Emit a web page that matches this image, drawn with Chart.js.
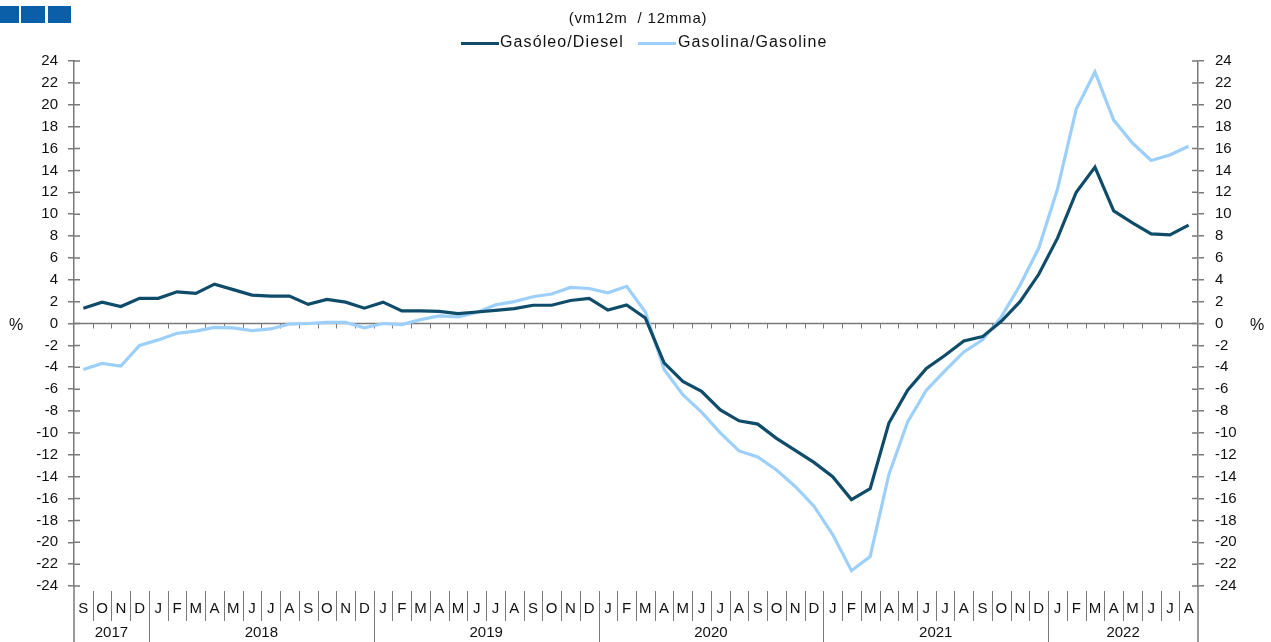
<!DOCTYPE html>
<html>
<head>
<meta charset="utf-8">
<script src="https://cdn.jsdelivr.net/npm/chart.js@4.4.0/dist/chart.umd.min.js"></script>
<style>
  body { margin: 0; background: #fff; font-family: "Liberation Sans", Arial, sans-serif; }
  #wrap { position: relative; width: 1271px; height: 642px; overflow: hidden; }
  canvas { position: absolute; left: 0; top: 0; }
  .sq { position: absolute; top: 6px; height: 17px; background: #0b5ea8; }
  .txt { position: absolute; white-space: nowrap; color: #111; font-size: 15px; }
  .swatch { position: absolute; height: 3px; }
</style>
</head>
<body>
<div id="wrap">
  <canvas id="chart" width="1271" height="642"></canvas>
  <div class="sq" style="left:0;width:19px"></div>
  <div class="sq" style="left:21px;width:24px"></div>
  <div class="sq" style="left:48px;width:23px"></div>
  <div class="txt" style="left:0;width:1276px;text-align:center;top:9px;letter-spacing:0.8px">(vm12m&nbsp; / 12mma)</div>
  <div class="swatch" style="left:461px;top:42px;width:38px;background:#0f4c6a"></div>
  <div class="txt" style="left:500px;top:33px;font-size:16px;letter-spacing:1.1px">Gasóleo/Diesel</div>
  <div class="swatch" style="left:638px;top:42px;width:38px;background:#9dcffb"></div>
  <div class="txt" style="left:678px;top:33px;font-size:16px;letter-spacing:1.1px">Gasolina/Gasoline</div>
</div>
<script>
// months Sep 2017 .. Aug 2022
const months = ['S','O','N','D',
  'J','F','M','A','M','J','J','A','S','O','N','D',
  'J','F','M','A','M','J','J','A','S','O','N','D',
  'J','F','M','A','M','J','J','A','S','O','N','D',
  'J','F','M','A','M','J','J','A','S','O','N','D',
  'J','F','M','A','M','J','J','A'];
const years = ['2017','2018','2019','2020','2021','2022'];
const yearLengths = [4, 12, 12, 12, 12, 8];

const diesel = [1.4, 1.95, 1.55, 2.3,
  2.3, 2.9, 2.75, 3.6, 3.1, 2.6, 2.5, 2.5, 1.75, 2.2, 1.95, 1.4,
  1.95, 1.15, 1.15, 1.1, 0.9, 1.05, 1.2, 1.36, 1.67, 1.67, 2.1, 2.3,
  1.23, 1.7, 0.5, -3.6, -5.3, -6.2, -7.9, -8.9, -9.2, -10.5, -11.6, -12.7,
  -14.0, -16.1, -15.1, -9.1, -6.1, -4.1, -2.9, -1.6, -1.2, 0.2, 2.0, 4.5,
  7.8, 12.0, 14.3, 10.3, 9.2, 8.2, 8.1, 9.0];

const gasoline = [-4.2, -3.65, -3.9, -2.0,
  -1.5, -0.9, -0.7, -0.35, -0.4, -0.65, -0.5, -0.05, 0.0, 0.1, 0.1, -0.4,
  0.0, -0.1, 0.35, 0.7, 0.6, 1.0, 1.7, 2.0, 2.45, 2.7, 3.3, 3.2,
  2.8, 3.4, 1.05, -4.2, -6.5, -8.1, -10.0, -11.65, -12.2, -13.4, -14.9, -16.7,
  -19.3, -22.6, -21.3, -13.8, -9.0, -6.1, -4.3, -2.6, -1.5, 0.6, 3.5, 6.9,
  12.3, 19.6, 23.0, 18.6, 16.5, 14.9, 15.4, 16.2];

const yMin = -24, yMax = 24, yStep = 2;
const axisGrey = '#7a7a7a';
const FONT = '"Liberation Sans", Arial, sans-serif';

// separators, zero line, inner tick stubs and % labels
const decor = {
  id: 'decor',
  beforeDatasetsDraw(chart) {
    const { ctx, chartArea: a, scales } = chart;
    const y0 = scales.y.getPixelForValue(0);
    const w = a.width / months.length;
    ctx.save();
    ctx.strokeStyle = axisGrey;
    ctx.lineWidth = 1.5;
    ctx.beginPath();
    ctx.moveTo(a.left, y0);
    ctx.lineTo(a.right, y0);
    ctx.stroke();
    ctx.lineWidth = 1;
    for (let i = 1; i < months.length; i++) {
      const x = Math.round(a.left + i * w) + 0.5;
      ctx.beginPath();
      ctx.moveTo(x, y0);
      ctx.lineTo(x, y0 + 5);
      ctx.stroke();
    }
    ctx.restore();
  },
  afterDraw(chart) {
    const { ctx, chartArea: a, scales } = chart;
    const w = a.width / months.length;
    ctx.save();
    ctx.strokeStyle = axisGrey;
    ctx.lineWidth = 1.5;
    // inner halves of the y tick marks
    for (let v = yMin; v <= yMax; v += yStep) {
      const y = scales.y.getPixelForValue(v);
      ctx.beginPath();
      ctx.moveTo(a.left, y); ctx.lineTo(a.left + 6, y);
      ctx.moveTo(a.right, y); ctx.lineTo(a.right - 6, y);
      ctx.stroke();
    }
    // axes carried down through the label area
    ctx.beginPath();
    ctx.moveTo(a.left, a.bottom); ctx.lineTo(a.left, 642);
    ctx.moveTo(a.right, a.bottom); ctx.lineTo(a.right, 642);
    ctx.stroke();
    // month and year separators
    ctx.lineWidth = 1;
    const yearStarts = [];
    let acc = 0;
    yearLengths.forEach(n => { yearStarts.push(acc); acc += n; });
    for (let i = 1; i < months.length; i++) {
      const x = Math.round(a.left + i * w) + 0.5;
      const isYear = yearStarts.includes(i);
      ctx.beginPath();
      ctx.moveTo(x, a.bottom + 5);
      ctx.lineTo(x, isYear ? 642 : a.bottom + 35);
      ctx.stroke();
    }
    // year labels
    ctx.fillStyle = '#111';
    ctx.font = '15px ' + FONT;
    ctx.textAlign = 'center';
    ctx.textBaseline = 'middle';
    years.forEach((yr, k) => {
      const x = a.left + (yearStarts[k] + yearLengths[k] / 2) * w;
      ctx.fillText(yr, x, 633);
    });
    // % labels
    const y0 = scales.y.getPixelForValue(0);
    ctx.font = '16px ' + FONT;
    ctx.fillText('%', 16, y0 + 2);
    ctx.fillText('%', 1257, y0 + 2);
    ctx.restore();
  }
};

const yTicks = (pad) => ({
  stepSize: yStep, color: '#111', padding: pad,
  font: { family: FONT, size: 15 }
});

new Chart(document.getElementById('chart'), {
  type: 'line',
  data: {
    labels: months,
    datasets: [
      { label: 'Gasóleo/Diesel', data: diesel, borderColor: '#0f4c6a', borderWidth: 3.2,
        pointRadius: 0, tension: 0, yAxisID: 'y', order: 1 },
      { label: 'Gasolina/Gasoline', data: gasoline, borderColor: '#9dcffb', borderWidth: 3.2,
        pointRadius: 0, tension: 0, yAxisID: 'y', order: 2 }
    ]
  },
  options: {
    responsive: false,
    animation: false,
    devicePixelRatio: 1,
    layout: { padding: { top: 61, left: 0, right: 0, bottom: 0 } },
    plugins: { legend: { display: false }, tooltip: { enabled: false } },
    scales: {
      x: {
        type: 'category', offset: true,
        grid: { display: false }, border: { display: false },
        ticks: { autoSkip: false, maxRotation: 0, color: '#111', padding: 6,
                 font: { family: FONT, size: 15 } },
        afterFit: s => { s.height = 56; }
      },
      y: {
        position: 'left', min: yMin, max: yMax,
        ticks: yTicks(10),
        grid: { drawOnChartArea: false, tickLength: 6, color: axisGrey, lineWidth: 1.5 },
        border: { color: axisGrey, width: 1.5 },
        afterFit: s => { s.width = 74; }
      },
      y2: {
        position: 'right', min: yMin, max: yMax,
        ticks: yTicks(11),
        grid: { drawOnChartArea: false, tickLength: 6, color: axisGrey, lineWidth: 1.5 },
        border: { color: axisGrey, width: 1.5 },
        afterFit: s => { s.width = 73; }
      }
    }
  },
  plugins: [decor]
});
</script>
</body>
</html>
